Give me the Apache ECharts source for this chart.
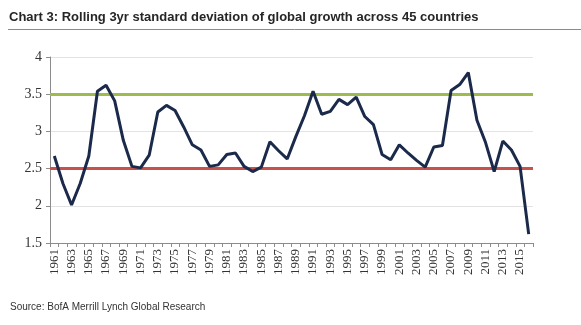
<!DOCTYPE html>
<html>
<head>
<meta charset="utf-8">
<script src="https://cdn.jsdelivr.net/npm/echarts@6/dist/echarts.min.js"></script>
<style>
  html, body { margin: 0; padding: 0; background: #fff; }
  #chart { width: 581px; height: 325px; }
</style>
</head>
<body>
<div id="chart"></div>
<script>
// Years on the category axis
const years = [];
for (let y = 1961; y <= 2016; y++) years.push(String(y));

// Rolling 3yr standard deviation of global growth, 1961-2016
const stdDev = [
  2.67, 2.30, 2.01, 2.30, 2.67, 3.54, 3.62, 3.41, 2.88, 2.53,
  2.51, 2.68, 3.26, 3.35, 3.28, 3.06, 2.82, 2.75, 2.53, 2.55,
  2.69, 2.71, 2.53, 2.46, 2.52, 2.86, 2.74, 2.63, 2.93, 3.21,
  3.54, 3.23, 3.27, 3.43, 3.36, 3.46, 3.20, 3.09, 2.69, 2.62,
  2.82, 2.71, 2.61, 2.52, 2.79, 2.81, 3.55, 3.63, 3.79, 3.15,
  2.85, 2.46, 2.87, 2.75, 2.53, 1.62
];

// Horizontal reference levels
const upperLevel = 3.5;
const lowerLevel = 2.5;

// Y-axis range
const yMin = 1.5, yMax = 4, yStep = 0.5;

const chart = echarts.init(document.getElementById('chart'), null, { renderer: 'canvas' });

chart.setOption({
  animation: false,
  backgroundColor: '#fff',
  title: {
    text: 'Chart 3: Rolling 3yr standard deviation of global growth across 45 countries',
    left: 9,
    top: 11,
    padding: 0,
    textStyle: { fontFamily: 'Liberation Sans, Arial, sans-serif', fontSize: 13, fontWeight: 'bold', color: '#262626' }
  },
  graphic: [
    {
      type: 'line',
      shape: { x1: 8, y1: 29.5, x2: 581, y2: 29.5 },
      style: { stroke: '#8a8a8a', lineWidth: 1 }
    },
    {
      type: 'text',
      left: 10,
      top: 302,
      style: {
        text: 'Source: BofA Merrill Lynch Global Research',
        font: '10px "Liberation Sans", Arial, sans-serif',
        fill: '#333'
      }
    }
  ],
  grid: { left: 50, right: 48, top: 57, bottom: 82 },
  xAxis: {
    type: 'category',
    data: years,
    boundaryGap: true,
    axisLine: { lineStyle: { color: '#8c8c8c', width: 1 } },
    axisTick: { show: true, interval: 0, length: 4, lineStyle: { color: '#8c8c8c' } },
    axisLabel: {
      interval: 1,
      rotate: 90,
      margin: 6,
      fontFamily: 'Liberation Serif, Times New Roman, serif',
      fontSize: 13,
      color: '#333'
    },
    splitLine: { show: false }
  },
  yAxis: {
    type: 'value',
    min: yMin,
    max: yMax,
    interval: yStep,
    axisLine: { show: true, lineStyle: { color: '#8c8c8c', width: 1 } },
    axisTick: { show: true, length: 4, lineStyle: { color: '#8c8c8c' } },
    axisLabel: {
      margin: 8,
      fontFamily: 'Liberation Serif, Times New Roman, serif',
      fontSize: 14,
      color: '#333'
    },
    splitLine: { show: true, lineStyle: { color: '#e3e3e3', width: 1 } }
  },
  series: [
    {
      type: 'line',
      data: stdDev,
      symbol: 'none',
      lineStyle: { color: '#1b2a4a', width: 3 },
      z: 3,
      markLine: {
        silent: true,
        symbol: 'none',
        label: { show: false },
        z: 2,
        data: [
          { yAxis: upperLevel, lineStyle: { color: '#9dbb4f', width: 3, type: 'solid' } },
          { yAxis: lowerLevel, lineStyle: { color: '#c9514b', width: 3, type: 'solid' } }
        ]
      }
    }
  ]
});
</script>
</body>
</html>
